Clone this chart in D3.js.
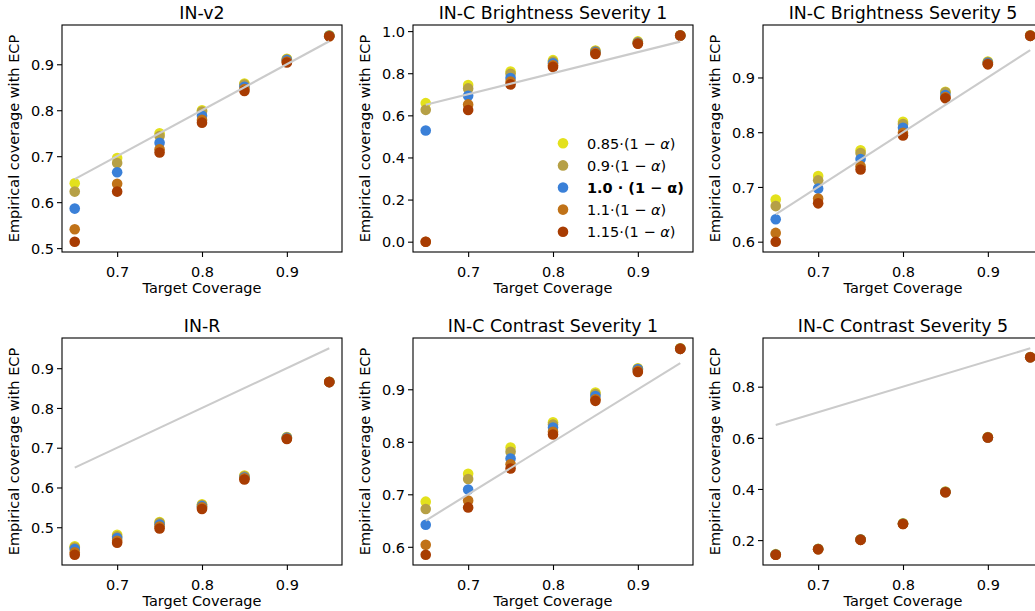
<!DOCTYPE html>
<html>
<head>
<meta charset="utf-8">
<script src="https://cdn.jsdelivr.net/npm/d3@7"></script>
<style>
  body { margin: 0; background: white; }
  svg { display: block; font-family: "DejaVu Sans", sans-serif; }
</style>
</head>
<body>
<svg id="chart" width="1035" height="611"></svg>
<script>
// Target coverage levels (x values)
var targets = [0.65, 0.70, 0.75, 0.80, 0.85, 0.90, 0.95];

// Series: multiplier on (1 - alpha)
var seriesNames = ["0.85", "0.9", "1.0", "1.1", "1.15"];
var seriesColors = ["#e3e11c", "#b6a046", "#3a80d8", "#c07218", "#a83c02"];

var titles = ["IN-v2", "IN-C Brightness Severity 1", "IN-C Brightness Severity 5",
              "IN-R", "IN-C Contrast Severity 1", "IN-C Contrast Severity 5"];

// Empirical coverage, one row per series (0.85, 0.9, 1.0, 1.1, 1.15)
var inV2 = [
  [0.641, 0.696, 0.750, 0.800, 0.858, 0.912, 0.963],
  [0.623, 0.685, 0.744, 0.797, 0.856, 0.911, 0.962],
  [0.586, 0.665, 0.729, 0.788, 0.851, 0.909, 0.962],
  [0.541, 0.640, 0.715, 0.779, 0.846, 0.906, 0.961],
  [0.514, 0.623, 0.708, 0.773, 0.842, 0.904, 0.961]
];
var brightness1 = [
  [0.658, 0.744, 0.808, 0.862, 0.908, 0.951, 0.980],
  [0.626, 0.728, 0.797, 0.855, 0.905, 0.948, 0.980],
  [0.528, 0.693, 0.777, 0.847, 0.901, 0.944, 0.979],
  [0.000, 0.652, 0.760, 0.838, 0.897, 0.942, 0.979],
  [0.000, 0.625, 0.747, 0.830, 0.891, 0.940, 0.979]
];
var brightness5 = [
  [0.677, 0.720, 0.767, 0.819, 0.874, 0.929, 0.977],
  [0.665, 0.712, 0.762, 0.815, 0.873, 0.928, 0.977],
  [0.641, 0.697, 0.751, 0.808, 0.868, 0.927, 0.976],
  [0.616, 0.679, 0.738, 0.799, 0.864, 0.925, 0.976],
  [0.600, 0.670, 0.732, 0.794, 0.862, 0.924, 0.976]
];
var inR = [
  [0.452, 0.481, 0.513, 0.558, 0.630, 0.727, 0.866],
  [0.449, 0.477, 0.511, 0.556, 0.628, 0.726, 0.866],
  [0.445, 0.473, 0.507, 0.553, 0.625, 0.725, 0.865],
  [0.437, 0.466, 0.502, 0.550, 0.623, 0.723, 0.865],
  [0.431, 0.461, 0.497, 0.546, 0.620, 0.722, 0.865]
];
var contrast1 = [
  [0.686, 0.739, 0.789, 0.837, 0.894, 0.940, 0.978],
  [0.672, 0.729, 0.781, 0.833, 0.891, 0.939, 0.978],
  [0.642, 0.709, 0.768, 0.827, 0.887, 0.938, 0.977],
  [0.604, 0.688, 0.757, 0.819, 0.881, 0.935, 0.977],
  [0.585, 0.675, 0.749, 0.814, 0.878, 0.933, 0.977]
];
var contrast5 = [
  [0.145, 0.166, 0.203, 0.266, 0.390, 0.603, 0.916],
  [0.144, 0.165, 0.202, 0.265, 0.389, 0.602, 0.916],
  [0.144, 0.165, 0.202, 0.264, 0.388, 0.601, 0.915],
  [0.143, 0.164, 0.201, 0.263, 0.387, 0.601, 0.915],
  [0.143, 0.164, 0.201, 0.263, 0.387, 0.601, 0.915]
];
var panelData = [inV2, brightness1, brightness5, inR, contrast1, contrast5];

var xTicks = [0.7, 0.8, 0.9];
var yTicks = [
  [0.5, 0.6, 0.7, 0.8, 0.9],
  [0.0, 0.2, 0.4, 0.6, 0.8, 1.0],
  [0.6, 0.7, 0.8, 0.9],
  [0.5, 0.6, 0.7, 0.8, 0.9],
  [0.6, 0.7, 0.8, 0.9],
  [0.2, 0.4, 0.6, 0.8]
];

function drawCharts() {
  // Layout
  var axW = 280, axH = 227;
  var colX = [62, 413, 763];
  var rowY = [25, 338];
  var fontSize = 14.5;
  var titleSize = 17.4;
  var circle_r = 5.3;

  var svg = d3.select("#chart");

  function paddedExtent(vals) {
    var lo = d3.min(vals), hi = d3.max(vals);
    var m = (hi - lo) * 0.05;
    return [lo - m, hi + m];
  }

  for (var p = 0; p < 6; p++) {
    var axLeft = colX[p % 3];
    var axTop = rowY[Math.floor(p / 3)];
    var data = panelData[p];

    var allY = d3.merge(data).concat([targets[0], targets[targets.length - 1]]);

    var x = d3.scaleLinear().domain(paddedExtent(targets)).range([0, axW]);
    var y = d3.scaleLinear().domain(paddedExtent(allY)).range([axH, 0]);

    var g = svg.append("g").attr("transform", "translate(" + axLeft + "," + axTop + ")");

    // points, one series after another
    for (var s = 0; s < data.length; s++) {
      g.selectAll("circle.s" + s).data(data[s]).enter().append("circle")
        .attr("class", "s" + s)
        .attr("cx", function(d, i) { return x(targets[i]); })
        .attr("cy", function(d) { return y(d); })
        .attr("r", circle_r)
        .attr("fill", seriesColors[s]);
    }

    // ideal coverage line
    g.append("line")
      .attr("x1", x(targets[0]))
      .attr("y1", y(targets[0]))
      .attr("x2", x(targets[targets.length - 1]))
      .attr("y2", y(targets[targets.length - 1]))
      .style("stroke", "#cbcbcb")
      .style("stroke-width", 2.1);

    // frame
    g.append("rect")
      .attr("width", axW).attr("height", axH)
      .attr("fill", "none").attr("stroke", "black").attr("stroke-width", 1.1);

    var xAxis = g.append("g").attr("transform", "translate(0," + axH + ")")
      .call(d3.axisBottom(x).tickValues(xTicks).tickFormat(d3.format(".1f"))
        .tickSize(5).tickPadding(9.7));
    var yAxis = g.append("g")
      .call(d3.axisLeft(y).tickValues(yTicks[p]).tickFormat(d3.format(".1f"))
        .tickSize(5).tickPadding(3));

    [xAxis, yAxis].forEach(function(a) {
      a.select(".domain").remove();
      a.selectAll(".tick line").attr("stroke", "black").attr("stroke-width", 1.1);
      a.selectAll(".tick text").attr("fill", "black")
        .style("font-size", fontSize + "px").style("font-family", "DejaVu Sans");
    });
    xAxis.selectAll(".tick text").attr("dy", null).attr("y", 25);
    yAxis.selectAll(".tick text").attr("dy", "0.36em");

    g.append("text")
      .attr("x", axW / 2).attr("y", -6)
      .attr("text-anchor", "middle")
      .style("font-size", titleSize + "px")
      .text(titles[p]);

    g.append("text")
      .attr("x", axW / 2).attr("y", axH + 41)
      .attr("text-anchor", "middle")
      .style("font-size", fontSize + "px")
      .text("Target Coverage");

    g.append("text")
      .attr("transform", "translate(-43," + (axH / 2) + ") rotate(-90)")
      .attr("text-anchor", "middle")
      .style("font-size", fontSize + "px")
      .text("Empirical coverage with ECP");

    // legend sits in the second panel
    if (p == 1) {
      var leg = g.append("g");
      for (var s = 0; s < seriesNames.length; s++) {
        var ly = 118.3 + s * 22.1;
        leg.append("circle")
          .attr("cx", 150).attr("cy", ly).attr("r", circle_r)
          .attr("fill", seriesColors[s]);
        var t = leg.append("text")
          .attr("x", 174).attr("y", ly + 5.3)
          .style("font-size", fontSize + "px");
        if (seriesNames[s] == "1.0") {
          t.style("font-weight", "bold");
          t.append("tspan").text(seriesNames[s] + " \u00b7 (1 \u2212 \u03b1)");
        } else {
          t.append("tspan").text(seriesNames[s] + "\u00b7(1 \u2212 ");
          t.append("tspan").style("font-style", "italic").text("\u03b1");
          t.append("tspan").text(")");
        }
      }
    }
  }
}

drawCharts();
</script>
</body>
</html>
